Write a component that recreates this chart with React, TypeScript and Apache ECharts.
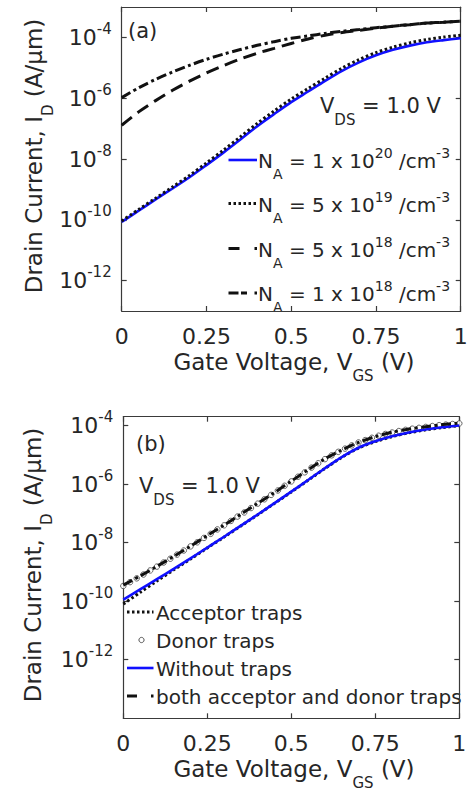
import React, { useEffect, useRef } from "react";
import * as echarts from "echarts";

// ---------- data (log10 of drain current in A/um) ----------
const vgs = [0, 0.05, 0.1, 0.15, 0.2, 0.25, 0.3, 0.35, 0.4, 0.45, 0.5, 0.55, 0.6, 0.65, 0.7, 0.75, 0.8, 0.85, 0.9, 0.95, 1];

// panel (a)
const logIdNA1e20 = [-10.07, -9.7, -9.33, -8.97, -8.6, -8.2, -7.79, -7.36, -6.92, -6.52, -6.13, -5.78, -5.43, -5.1, -4.82, -4.59, -4.41, -4.27, -4.16, -4.09, -4.03];
const logIdNA5e19 = [-10.04, -9.66, -9.29, -8.92, -8.54, -8.13, -7.71, -7.27, -6.83, -6.42, -6.03, -5.68, -5.34, -5.01, -4.73, -4.5, -4.32, -4.18, -4.07, -3.99, -3.93];
const logIdNA5e18 = [-6.89, -6.45, -6.08, -5.74, -5.44, -5.17, -4.93, -4.71, -4.52, -4.36, -4.2, -4.05, -3.93, -3.84, -3.77, -3.7, -3.63, -3.58, -3.53, -3.5, -3.47];
const logIdNA1e18 = [-5.98, -5.66, -5.38, -5.14, -4.92, -4.72, -4.55, -4.4, -4.26, -4.14, -4.03, -3.95, -3.87, -3.8, -3.74, -3.68, -3.63, -3.58, -3.53, -3.5, -3.47];

// panel (b)
const logIdAcceptor = [-10.1, -9.7, -9.31, -8.93, -8.56, -8.18, -7.81, -7.43, -7.05, -6.66, -6.27, -5.87, -5.47, -5.09, -4.77, -4.55, -4.38, -4.25, -4.15, -4.07, -4.01];
const logIdWithout = [-9.95, -9.6, -9.25, -8.9, -8.54, -8.17, -7.8, -7.42, -7.04, -6.65, -6.26, -5.86, -5.46, -5.08, -4.76, -4.54, -4.37, -4.24, -4.14, -4.06, -4.0];
const logIdBoth = [-9.45, -9.14, -8.81, -8.47, -8.12, -7.76, -7.4, -7.03, -6.66, -6.29, -5.9, -5.51, -5.14, -4.84, -4.58, -4.38, -4.23, -4.12, -4.04, -3.97, -3.92];
const vgsDonor = [0, 0.02, 0.04, 0.06, 0.08, 0.1, 0.12, 0.14, 0.16, 0.18, 0.2, 0.22, 0.24, 0.26, 0.28, 0.3, 0.32, 0.34, 0.36, 0.38, 0.4, 0.42, 0.44, 0.46, 0.48, 0.5, 0.52, 0.54, 0.56, 0.58, 0.6, 0.62, 0.64, 0.66, 0.68, 0.7, 0.72, 0.74, 0.76, 0.78, 0.8, 0.82, 0.84, 0.86, 0.88, 0.9, 0.92, 0.94, 0.96, 0.98, 1];
const logIdDonor = [-9.48, -9.35, -9.22, -9.09, -8.95, -8.82, -8.68, -8.55, -8.41, -8.27, -8.13, -7.99, -7.84, -7.7, -7.55, -7.41, -7.26, -7.11, -6.97, -6.82, -6.67, -6.52, -6.37, -6.22, -6.06, -5.91, -5.75, -5.6, -5.44, -5.29, -5.15, -5.02, -4.9, -4.79, -4.68, -4.58, -4.5, -4.42, -4.35, -4.29, -4.24, -4.19, -4.15, -4.11, -4.08, -4.05, -4.02, -3.99, -3.97, -3.95, -3.93];

const yTickExps = [-12, -10, -8, -6, -4];
const legendA = [
  { mant: "1", exp: "20" },
  { mant: "5", exp: "19" },
  { mant: "5", exp: "18" },
  { mant: "1", exp: "18" },
];
const legendB = ["Acceptor traps", "Donor traps", "Without traps", "both acceptor and donor traps"];

// ---------- styling ----------
const FONT = "DejaVu Sans";
const TXT = "#262626";
const AX = "#3a3a3a";
const BLUE = "#1010ff";

const tickRich = {
  b: { fontSize: 22, fontFamily: FONT, color: TXT, lineHeight: 32 },
  s: { fontSize: 15, fontFamily: FONT, color: TXT, lineHeight: 15, verticalAlign: "top" },
};

const legRich = {
  n: { fontSize: 20, fontFamily: FONT, lineHeight: 40 },
  sub: { fontSize: 14, fontFamily: FONT, lineHeight: 14, verticalAlign: "bottom" },
  sup: { fontSize: 14, fontFamily: FONT, lineHeight: 14, verticalAlign: "top", padding: [5, 0, 0, 0] },
};
const annRich = {
  n: { fontSize: 21, fontFamily: FONT, lineHeight: 42 },
  sub: { fontSize: 15, fontFamily: FONT, lineHeight: 15, verticalAlign: "bottom" },
};
const titleRich = {
  n: { fontSize: 23, fontFamily: FONT, lineHeight: 42 },
  sub: { fontSize: 15, fontFamily: FONT, lineHeight: 15, verticalAlign: "bottom" },
};

function xAxesFor(gridIndex: number) {
  const common = {
    gridIndex,
    type: "value",
    min: 0,
    max: 1,
    interval: 0.25,
    splitLine: { show: false },
    axisLine: { show: true, onZero: false, lineStyle: { color: AX, width: 1.2 } },
    axisTick: { show: true, inside: true, length: 5, lineStyle: { color: AX, width: 1.2 } },
  };
  return [
    {
      ...common,
      position: "bottom",
      axisLabel: {
        show: true,
        margin: 14,
        fontSize: 22,
        fontFamily: FONT,
        color: TXT,
        formatter: (v: number) => String(v),
      },
    },
    { ...common, position: "top", axisLabel: { show: false } },
  ];
}

function yAxesFor(gridIndex: number, min: number, max: number) {
  const common = {
    gridIndex,
    type: "value",
    min,
    max,
    splitLine: { show: false },
    axisLine: { show: true, onZero: false, lineStyle: { color: AX, width: 1.2 } },
    axisTick: { show: true, inside: true, length: 5, customValues: yTickExps, lineStyle: { color: AX, width: 1.2 } },
  };
  return [
    {
      ...common,
      position: "left",
      axisLabel: {
        show: true,
        margin: 10,
        customValues: yTickExps,
        formatter: (v: number) => `{b|10}{s|${v}}`,
        rich: tickRich,
      },
    },
    { ...common, position: "right", axisLabel: { show: false } },
  ];
}

function lineSeries(name: string, xs: number[], ys: number[], axis: number, lineStyle: any, z: number) {
  return {
    name,
    type: "line",
    xAxisIndex: axis,
    yAxisIndex: axis,
    data: xs.map((x, i) => [x, ys[i]]),
    showSymbol: false,
    symbol: "none",
    smooth: 0.3,
    lineStyle: { cap: "butt", ...lineStyle },
    z,
  };
}

const DOT = { color: "#111", width: 3, type: [2.5, 2.5] };
const DASH = { color: "#111", width: 3, type: [13, 7] };
const DASHDOT = { color: "#111", width: 3, type: [10, 3.5, 3, 3.5] };
const SOLID_BLUE = { color: BLUE, width: 2.6, type: "solid" };

function text(x: number, y: number, str: string, rich: any, extra: any = {}) {
  return {
    type: "text",
    x,
    y,
    ...extra,
    style: {
      text: str,
      rich,
      fill: TXT,
      fontFamily: FONT,
      align: extra.align || "left",
      verticalAlign: "middle",
      textAlign: extra.align || "left",
      textVerticalAlign: "middle",
    },
  };
}
function seg(x1: number, x2: number, y: number, stroke: string, lineWidth: number, lineDash?: number[]) {
  return {
    type: "line",
    shape: { x1, y1: y, x2, y2: y },
    style: { stroke, lineWidth, lineDash: lineDash || null, lineCap: "butt" },
  };
}

const legAY = [160, 203.5, 248.5, 293];
const legAStyles = [
  { stroke: BLUE, w: 2.6, dash: undefined },
  { stroke: "#111", w: 3, dash: [2.5, 2.5] },
  { stroke: "#111", w: 3, dash: [11, 15] },
  { stroke: "#111", w: 3, dash: [10, 2.5, 6, 7.5, 2.5, 10] },
];
const legBY = [612, 640, 668, 696];

const graphicElements: any[] = [
  // titles
  text(34, 156, "{n|Drain Current, I}{sub|D}{n| (A/μm)}", titleRich, { rotation: Math.PI / 2, align: "center" }),
  text(33, 565, "{n|Drain Current, I}{sub|D}{n| (A/μm)}", titleRich, { rotation: Math.PI / 2, align: "center" }),
  text(294, 362, "{n|Gate Voltage, V}{sub|GS}{n| (V)}", titleRich, { align: "center" }),
  text(294, 769, "{n|Gate Voltage, V}{sub|GS}{n| (V)}", titleRich, { align: "center" }),
  // annotations
  text(128, 31, "{n|(a)}", annRich),
  text(320, 106, "{n|V}{sub|DS}{n| = 1.0 V}", annRich),
  text(136, 444, "{n|(b)}", annRich),
  text(139, 486, "{n|V}{sub|DS}{n| = 1.0 V}", annRich),
];
legendA.forEach((d, i) => {
  const s = legAStyles[i];
  graphicElements.push(seg(228.5, 257, legAY[i], s.stroke, s.w, s.dash));
  graphicElements.push(
    text(258, legAY[i] + 1, `{n|N}{sub|A}{n| = ${d.mant} x 10}{sup|${d.exp}}{n| /cm}{sup|-3}`, legRich)
  );
});
graphicElements.push(seg(127, 153.5, legBY[0], "#111", 3, [2.5, 2.5]));
graphicElements.push({
  type: "circle",
  shape: { cx: 141.5, cy: legBY[1], r: 2.6 },
  style: { fill: "#fff", stroke: "#555", lineWidth: 1 },
});
graphicElements.push(seg(127, 153.5, legBY[2], BLUE, 2.6));
graphicElements.push(seg(127, 153.5, legBY[3], "#111", 3, [10, 14, 2.5, 10]));
legendB.forEach((t, i) => {
  graphicElements.push(text(156, legBY[i] + 1, `{n|${t}}`, legRich));
});

const option: any = {
  animation: false,
  backgroundColor: "#ffffff",
  textStyle: { fontFamily: FONT },
  grid: [
    { left: 121.7, top: 7, width: 339, height: 304, containLabel: false, outerBoundsMode: "none" },
    { left: 123.3, top: 416.7, width: 336, height: 301.6, containLabel: false, outerBoundsMode: "none" },
  ],
  xAxis: [...xAxesFor(0), ...xAxesFor(1)],
  yAxis: [...yAxesFor(0, -13, -3), ...yAxesFor(1, -14, -3.7)],
  series: [
    lineSeries("NA=1e20", vgs, logIdNA1e20, 0, SOLID_BLUE, 2),
    lineSeries("NA=5e19", vgs, logIdNA5e19, 0, DOT, 3),
    lineSeries("NA=5e18", vgs, logIdNA5e18, 0, DASH, 3),
    lineSeries("NA=1e18", vgs, logIdNA1e18, 0, DASHDOT, 3),
    lineSeries("Acceptor traps", vgs, logIdAcceptor, 2, DOT, 2),
    {
      name: "Donor traps",
      type: "scatter",
      xAxisIndex: 2,
      yAxisIndex: 2,
      data: vgsDonor.map((x, i) => [x, logIdDonor[i]]),
      symbol: "circle",
      symbolSize: 5.5,
      itemStyle: { color: "#ffffff", borderColor: "#444", borderWidth: 1 },
      z: 3,
    },
    lineSeries("Without traps", vgs, logIdWithout, 2, SOLID_BLUE, 4),
    lineSeries("both acceptor and donor traps", vgs, logIdBoth, 2, DASHDOT, 5),
  ],
  graphic: { elements: graphicElements },
};

export default function App() {
  const ref = useRef<HTMLDivElement>(null);
  useEffect(() => {
    document.body.style.margin = "0";
    const chart = echarts.init(ref.current as HTMLDivElement, null, { renderer: "svg" });
    chart.setOption(option);
    return () => chart.dispose();
  }, []);
  return <div ref={ref} style={{ position: "absolute", left: 0, top: 0, width: 470, height: 791 }} />;
}
